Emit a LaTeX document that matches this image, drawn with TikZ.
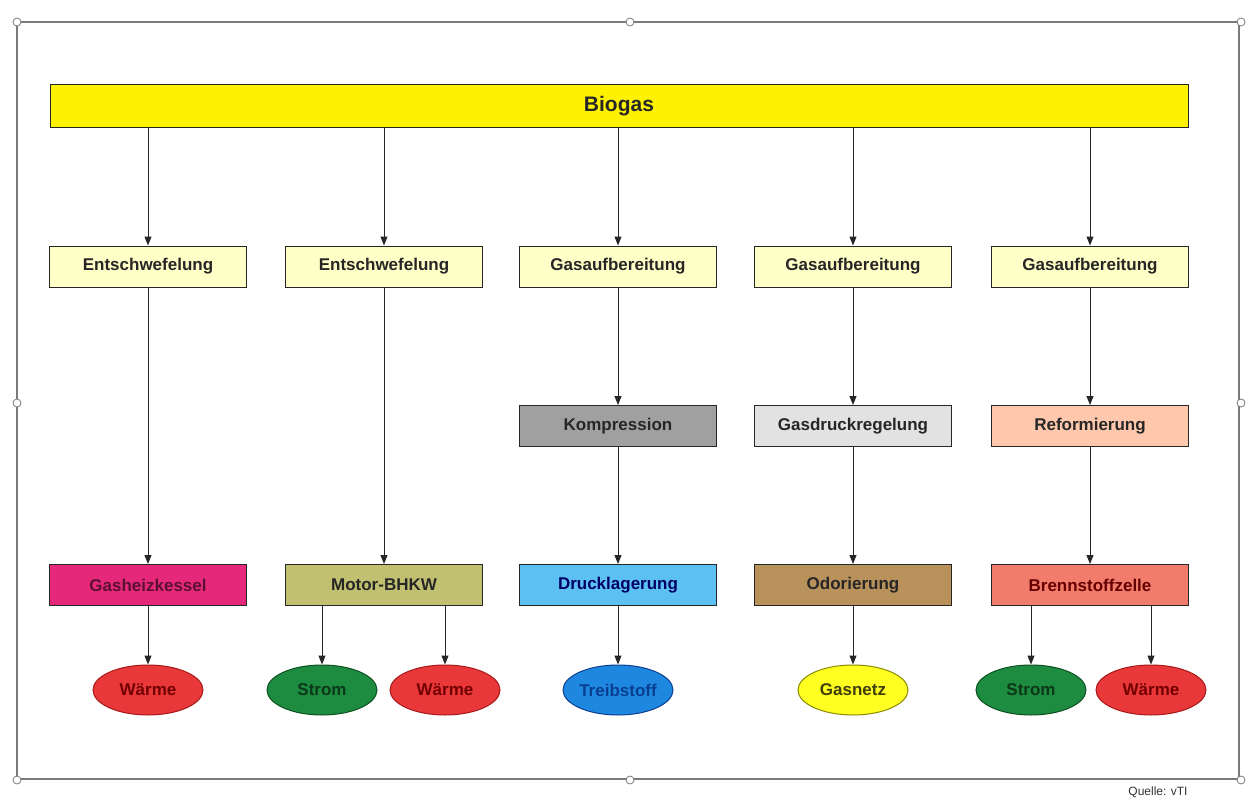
\documentclass[tikz,border=0pt]{standalone}
\usepackage{fontspec}
\setmainfont{Liberation Sans}
\usetikzlibrary{shapes.geometric,arrows.meta}
\definecolor{biogasY}{HTML}{FFF200}
\definecolor{pale}{HTML}{FFFFC8}
\definecolor{komp}{HTML}{A0A0A0}
\definecolor{gdr}{HTML}{E2E2E2}
\definecolor{refo}{HTML}{FFC8AC}
\definecolor{heiz}{HTML}{E6287A}
\definecolor{motor}{HTML}{C0C070}
\definecolor{druck}{HTML}{5CC0F2}
\definecolor{odor}{HTML}{B8925A}
\definecolor{brenn}{HTML}{F27C6C}
\definecolor{waerme}{HTML}{E8383A}
\definecolor{waermeD}{HTML}{A81818}
\definecolor{strom}{HTML}{1E8C40}
\definecolor{stromD}{HTML}{0C5020}
\definecolor{treib}{HTML}{1E88E0}
\definecolor{treibD}{HTML}{0A3E90}
\definecolor{gasnetz}{HTML}{FFFF22}
\definecolor{gasnetzD}{HTML}{8A8A00}
\definecolor{framegray}{HTML}{7A7A7A}
\tikzset{
  stepbox/.style={draw=black!85, line width=1pt, rectangle, minimum width=197pt, minimum height=41pt, inner sep=0pt, font=\bfseries\fontsize{17}{19}\selectfont, text=black!85},
  outnode/.style={ellipse, line width=1pt, minimum width=110pt, minimum height=50pt, inner sep=0pt, font=\bfseries\fontsize{17}{19}\selectfont},
  conn/.style={draw=black!85, line width=1pt, -{Triangle[width=7pt,length=9pt]}},
  handle/.style={circle, draw=framegray, fill=white, line width=0.8pt, minimum size=8pt, inner sep=0pt}
}
\begin{document}
\begin{tikzpicture}[x=1pt,y=-1pt]
\useasboundingbox (0,0) rectangle (1248,800);
\fill[white] (0,0) rectangle (1248,800);
% frame
\draw[framegray, line width=1.4pt] (17,22) rectangle (1239,779);
\foreach \p/\n in {{17,22}/h1,{630,22}/h2,{1241,22}/h3,{17,403}/h4,{1241,403}/h5,{17,780}/h6,{630,780}/h7,{1241,780}/h8}
  \node[handle] (\n) at (\p) {};
% top bar
\node[draw=black!85, line width=1pt, fill=biogasY, minimum width=1138pt, minimum height=42pt, inner sep=0pt, font=\bfseries\fontsize{21}{23}\selectfont, text=black!85] (bio) at (619,106) {Biogas};
% row 2
\node[stepbox, fill=pale] (e1) at (148,266.5) {Entschwefelung};
\node[stepbox, fill=pale] (e2) at (384,266.5) {Entschwefelung};
\node[stepbox, fill=pale] (g3) at (618,266.5) {Gasaufbereitung};
\node[stepbox, fill=pale] (g4) at (853,266.5) {Gasaufbereitung};
\node[stepbox, fill=pale] (g5) at (1090,266.5) {Gasaufbereitung};
% row 3
\node[stepbox, fill=komp] (k3) at (618,426) {Kompression};
\node[stepbox, fill=gdr] (k4) at (853,426) {Gasdruckregelung};
\node[stepbox, fill=refo] (k5) at (1090,426) {Reformierung};
% row 4
\node[stepbox, fill=heiz, text=black!60!heiz] (a1) at (148,585) {Gasheizkessel};
\node[stepbox, fill=motor] (a2) at (384,585) {Motor-BHKW};
\node[stepbox, fill=druck, text=blue!40!black] (a3) at (618,585) {Drucklagerung};
\node[stepbox, fill=odor] (a4) at (853,585) {Odorierung};
\node[stepbox, fill=brenn, text=black!60!red] (a5) at (1090,585) {Brennstoffzelle};
% row 5
\node[outnode, fill=waerme, draw=waermeD, text=black!55!red] (w1) at (148,690) {Wärme};
\node[outnode, fill=strom, draw=stromD, text=black!60!strom] (s2) at (322,690) {Strom};
\node[outnode, fill=waerme, draw=waermeD, text=black!55!red] (w2) at (445,690) {Wärme};
\node[outnode, fill=treib, draw=treibD, text=treibD] (t3) at (618,690) {Treibstoff};
\node[outnode, fill=gasnetz, draw=gasnetzD, text=black!75!gasnetz] (n4) at (853,690) {Gasnetz};
\node[outnode, fill=strom, draw=stromD, text=black!60!strom] (s5) at (1031,690) {Strom};
\node[outnode, fill=waerme, draw=waermeD, text=black!55!red] (w5) at (1151,690) {Wärme};
% connectors
\foreach \t in {e1,e2,g3,g4,g5}
  \draw[conn] (bio.south -| \t.north) -- (\t.north);
\draw[conn] (e1) -- (a1);
\draw[conn] (e2) -- (a2);
\draw[conn] (g3) -- (k3);
\draw[conn] (g4) -- (k4);
\draw[conn] (g5) -- (k5);
\draw[conn] (k3) -- (a3);
\draw[conn] (k4) -- (a4);
\draw[conn] (k5) -- (a5);
\draw[conn] (a1) -- (w1);
\draw[conn] (a2.south -| s2.north) -- (s2.north);
\draw[conn] (a2.south -| w2.north) -- (w2.north);
\draw[conn] (a3) -- (t3);
\draw[conn] (a4) -- (n4);
\draw[conn] (a5.south -| s5.north) -- (s5.north);
\draw[conn] (a5.south -| w5.north) -- (w5.north);
\node[font=\fontsize{12}{13}\selectfont, text=black!80, anchor=south, inner sep=1pt] (src) at (1158,799) {Quelle: vTI};
\end{tikzpicture}
\end{document}
